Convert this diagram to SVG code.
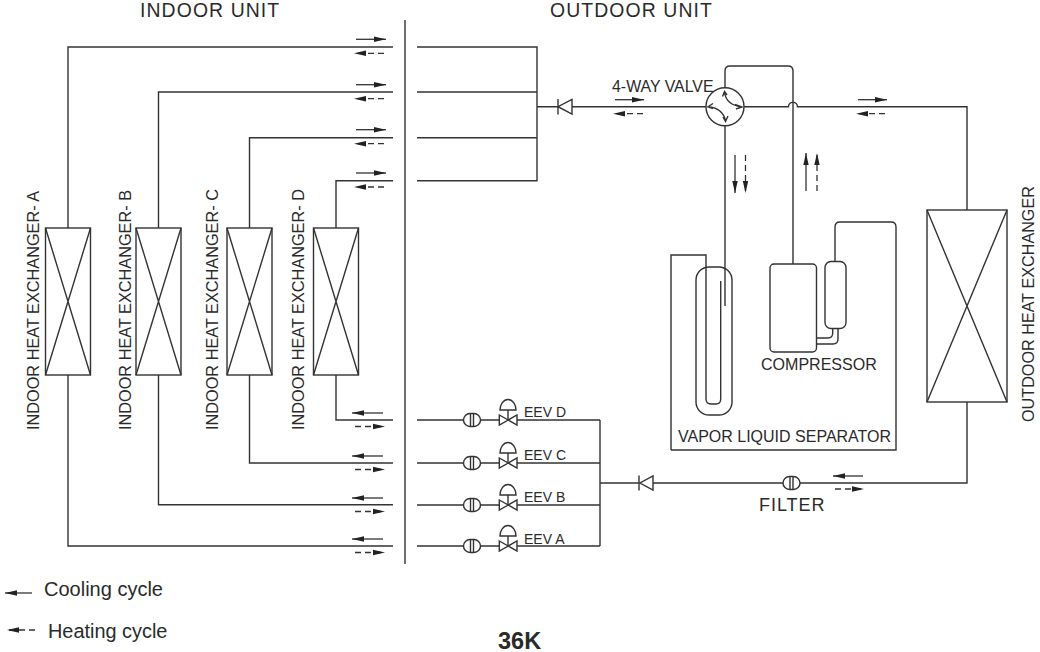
<svg xmlns="http://www.w3.org/2000/svg" xmlns:xlink="http://www.w3.org/1999/xlink" width="1040" height="652" viewBox="0 0 1040 652">
<style>
text{font-family:"Liberation Sans",Arial,sans-serif;fill:#2a2a2a}
.l{fill:none;stroke:#333;stroke-width:1.4}
.w{fill:#fff;stroke:#333;stroke-width:1.4}
.s{fill:none;stroke:#333;stroke-width:1.3;marker-end:url(#ah)}
.d{fill:none;stroke:#333;stroke-width:1.3;stroke-dasharray:6 4;marker-end:url(#ah)}
.t17{font-size:16.3px}
.t16{font-size:16.2px}
.e{font-size:14px}
</style>
<defs>
<marker id="ah" markerUnits="userSpaceOnUse" markerWidth="13" markerHeight="8" refX="12" refY="4" orient="auto"><path d="M0 1.300L12 4L0 6.700Z" fill="#222"/></marker>
<g id="hx"><rect class="w" x="-22.5" y="0" width="45" height="147"/><path class="l" d="M-22.5 0L22.5 147M22.5 0L-22.5 147"/></g>
<g id="ta"><path class="s" d="M356 0H386"/><path class="d" d="M384 14H354"/></g>
<g id="ba"><path class="s" d="M383 -7H352"/><path class="d" d="M355 6.500H385"/></g>
<g id="ev">
<path class="l" d="M417 0H463.500M481 0H499M517 0H600"/>
<rect class="w" x="463.500" y="-6.500" width="17" height="13" rx="6.500"/>
<path class="l" d="M470.500 -6.500V6.500M473.500 -6.500V6.500"/>
<path class="w" d="M499.300 -5L517 5V-5L499.300 5Z"/>
<path class="l" d="M508 0V-10"/>
<path class="w" d="M500 -10A8 10.500 0 1 1 516 -10Z"/>
</g>
</defs>

<g id="connectors">
<path class="l" d="M393 47H68V228M68 375V546H393"/>
<path class="l" d="M393 92H158.500V228M158.500 375V504.700H393"/>
<path class="l" d="M393 137.700H249.500V228M249.500 375V463H393"/>
<path class="l" d="M393 180.700H336V228M336 375V420H393"/>
<path class="l" d="M405 20V564"/>
<path class="l" d="M417 47H537V180.700H417M417 92H537M417 137.700H537M537 106.700H558M572 106.700H706"/>
<path class="l" d="M744 106.700H788.500A4.500 4.500 0 0 1 797.500 106.700H967V210M967 402V483H653M639 483H600M600 420V546"/>
<path class="l" d="M725 88V71Q725 66 730 66H788Q793 66 793 71V264"/>
<path class="l" d="M725 126V306"/>
<path class="l" d="M671 450V255H706V399Q706 404 711 404H716Q720.700 404 720.700 399V281"/>
<path class="l" d="M671 450H896V227Q896 222 891 222H840Q835 222 835 227V261.500"/>
<path class="l" d="M816.500 338H828Q832.700 338 832.700 333V328M816.500 344H833Q838 344 838 339V328"/>
<use xlink:href="#ta" y="39.300"/><use xlink:href="#ta" y="84.700"/><use xlink:href="#ta" y="129.700"/><use xlink:href="#ta" y="173"/>
<use xlink:href="#ba" y="420"/><use xlink:href="#ba" y="463"/><use xlink:href="#ba" y="505"/><use xlink:href="#ba" y="546"/>
<path class="s" d="M615 99.700H644"/><path class="d" d="M643 113.700H613"/>
<path class="s" d="M858 99.700H887"/><path class="d" d="M885 113.700H856"/>
<path class="s" d="M735 155V193"/><path class="d" d="M745.500 155V193"/>
<path class="s" d="M806 191V153"/><path class="d" d="M817 191V153"/>
<path class="s" d="M863 476H833"/><path class="d" d="M835 489H864"/>
</g>

<g id="hx-a"><use xlink:href="#hx" x="68" y="228"/><text class="t17" transform="translate(38.500 430) rotate(-90)">INDOOR HEAT EXCHANGER- A</text></g>
<g id="hx-b"><use xlink:href="#hx" x="158.500" y="228"/><text class="t17" transform="translate(131 430) rotate(-90)">INDOOR HEAT EXCHANGER- B</text></g>
<g id="hx-c"><use xlink:href="#hx" x="249.500" y="228"/><text class="t17" transform="translate(218 430) rotate(-90)">INDOOR HEAT EXCHANGER- C</text></g>
<g id="hx-d"><use xlink:href="#hx" x="336" y="228"/><text class="t17" transform="translate(304 430) rotate(-90)">INDOOR HEAT EXCHANGER- D</text></g>
<g id="hx-out"><rect class="w" x="927" y="210" width="80" height="192"/><path class="l" d="M927 210L1007 402M1007 210L927 402"/><text class="t16" transform="translate(1034 422) rotate(-90)">OUTDOOR HEAT EXCHANGER</text></g>

<g id="eev-d"><use xlink:href="#ev" y="420"/><text class="e" x="524" y="417">EEV D</text></g>
<g id="eev-c"><use xlink:href="#ev" y="463"/><text class="e" x="524" y="460">EEV C</text></g>
<g id="eev-b"><use xlink:href="#ev" y="505"/><text class="e" x="524" y="502">EEV B</text></g>
<g id="eev-a"><use xlink:href="#ev" y="546"/><text class="e" x="524" y="544">EEV A</text></g>

<g id="check-top"><path class="w" d="M572 99.500V114L558 106.700Z"/><path class="l" d="M558 99V114.500"/></g>
<g id="check-bottom"><path class="w" d="M653 476V490L640 483Z"/><path class="l" d="M639 475.500V490.500"/></g>
<g id="filter"><rect class="w" x="783" y="476.500" width="17" height="13" rx="6.500"/><path class="l" d="M790 476.500V489.500M793 476.500V489.500"/><text x="759" y="511" font-size="18" letter-spacing="0.950">FILTER</text></g>

<g id="four-way"><circle class="w" cx="725" cy="106.700" r="19"/><path class="l" stroke-width="1.100" d="M724.500 92Q726 105 742 107M708 106.700Q723 108 725.500 121M722.500 96.500L724.500 91.500L727 95M736 109L742 107L735 104.500M713 103.500L708 106.700L713 108.500M723 117L725.500 121.500L728 116"/><text x="612" y="92" font-size="15.900">4-WAY VALVE</text></g>

<g id="separator"><rect class="l" x="696" y="267" width="36" height="148" rx="13"/><text x="678" y="442" font-size="16">VAPOR LIQUID SEPARATOR</text></g>
<g id="compressor"><rect class="w" x="770" y="264" width="46.500" height="88" rx="4"/><rect class="w" x="825" y="261.500" width="21" height="67" rx="6"/><text x="761" y="370" font-size="16.050">COMPRESSOR</text></g>

<g id="titles">
<text x="140" y="16.500" font-size="19.400" letter-spacing="1.100">INDOOR UNIT</text>
<text x="550" y="16.500" font-size="19.400" letter-spacing="1.100">OUTDOOR UNIT</text>
<text x="44" y="596" font-size="20">Cooling cycle</text>
<text x="48" y="638" font-size="19.900">Heating cycle</text>
<text x="498" y="649" font-size="23.500" font-weight="bold">36K</text>
</g>
<g id="legend"><path class="s" d="M32 593H5"/><path class="d" d="M35 630H7"/></g>
</svg>
